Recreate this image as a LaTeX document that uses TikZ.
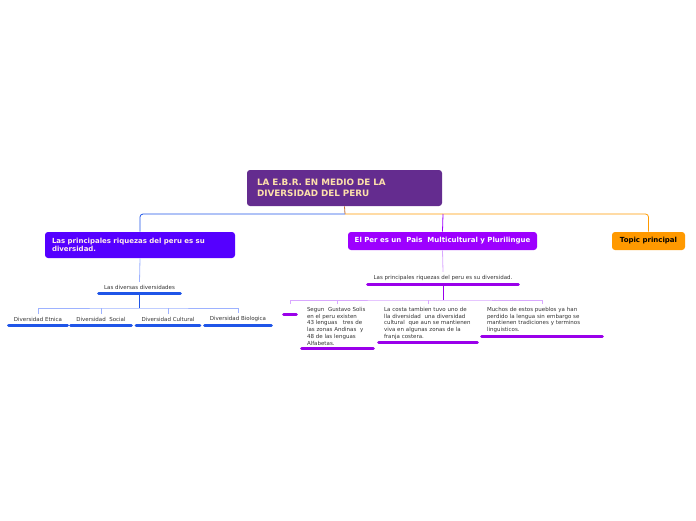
\documentclass[tikz,border=0pt]{standalone}
\usepackage{fontspec}
\setmainfont{DejaVu Sans}
\definecolor{topc}{HTML}{642C8F}
\definecolor{leftc}{HTML}{5500FF}
\definecolor{midc}{HTML}{9D00FF}
\definecolor{topicc}{HTML}{FF9900}
\definecolor{bluel}{HTML}{1F55E8}
\definecolor{bluelight}{HTML}{9DB2FF}
\definecolor{purl}{HTML}{9A00EA}
\definecolor{purlight}{HTML}{D9A8FF}
\begin{document}
\begin{tikzpicture}[x=1pt, y=-1pt, line width=0.8pt,
	box/.style={rounded corners=3pt, font=\bfseries\fontsize{7}{8.2}\selectfont},
	leaf/.style={font=\fontsize{5.5}{6.7}\selectfont, text=black!80, inner xsep=5pt, inner ysep=3pt},
	bluebar/.style={line width=3pt, line cap=round, bluel},
	purbar/.style={line width=3pt, line cap=round, purl}]
	\useasboundingbox (0,0) rectangle (696,520);

	% main topics
	\node[box, fill=topc, text=yellow!25!orange!30, font=\bfseries\fontsize{8.8}{11}\selectfont, text width=175pt, inner xsep=10pt, minimum height=36pt, align=left] (top) at (344.5, 188) {LA E.B.R. EN MEDIO DE LA\\DIVERSIDAD DEL PERU};
	\node[box, fill=leftc, text=pink!30, text width=176pt, inner xsep=7pt, minimum height=26pt, align=left] (left) at (140, 245) {Las principales riquezas del peru es su\\diversidad.};
	\node[box, fill=midc, text=white, minimum width=189pt, minimum height=18pt] (mid) at (442.5, 241) {El Per es un\ \ Pais\ \ Multicultural y Plurilingue};
	\node[box, fill=topicc, text=black, minimum width=73pt, minimum height=18pt] (topic) at (648.5, 241) {Topic principal};

	\coordinate (j) at (345, 214);
	\coordinate (jm) at (443, 214);
	\draw[topicc!60!topc] (top.south) -- (j);
	\draw[bluel, rounded corners=3pt] (j) -| (left.north);
	\draw[topicc, rounded corners=3pt] (j) -| (topic.north);
	\draw[midc] (jm) -- (mid.north);

	% left branch
	\node[leaf, anchor=south, minimum width=81pt] (div) at (139.5, 293) {Las diversas diversidades};
	\draw[bluebar] (div.south west) -- (div.south east);
	\draw[bluelight] (left.south) -- (div.north);
	\node[leaf, anchor=south, minimum width=58pt] (e1) at (38, 325) {Diversidad Etnica};
	\node[leaf, anchor=south, minimum width=60pt] (e2) at (101, 325) {Diversidad\ \ Social};
	\node[leaf, anchor=south, minimum width=62pt] (e3) at (168, 325) {Diversidad Cultural};
	\node[leaf, anchor=south, minimum width=66pt] (e4) at (238, 325) {Diversidad Biologica};
	\foreach \n in {e1, e2, e3, e4}
		\draw[bluebar] (\n.south west) -- (\n.south east);
	\coordinate (b1) at (139.5, 308);
	\draw[bluel] (div.south) -- (b1);
	\draw[bluelight] (e1.north) |- (b1) -| (e4.north);
	\draw[bluelight] (e2.north) -- (e2.north |- b1);
	\draw[bluelight] (e3.north) -- (e3.north |- b1);

	% middle branch
	\node[leaf, anchor=south, minimum width=150pt] (riq) at (443, 284) {Las principales riquezas del peru es su diversidad.};
	\draw[purbar] (riq.south west) -- (riq.south east);
	\draw[purlight] (mid.south) -- (riq.north);
	\node[leaf, anchor=north, minimum width=12pt, minimum height=10pt] (m1) at (290, 304) {};
	\node[leaf, anchor=north, text width=61pt, align=left] (m2) at (337.5, 304) {Segun\ \ Gustavo Solis\\en el peru existen\\43 lenguas\ \ \ tres de\\las zonas Andinas\ \ y\\48 de las lenguas\\Alfabetas.};
	\node[leaf, anchor=north, text width=88pt, align=left] (m3) at (428, 304) {La costa tambien tuvo uno de\\lla diversidad\ \ una diversidad\\cultural\ \ que aun se mantienen\\viva en algunas zonas de la\\franja costera.};
	\node[leaf, anchor=north, text width=110pt, align=left] (m4) at (542, 304) {Muchos de estos pueblos ya han\\perdido la lengua sin embargo se\\mantienen tradiciones y terminos\\linguisticos.};
	\foreach \n in {m1, m2, m3, m4}
		\draw[purbar] (\n.south west) -- (\n.south east);
	\coordinate (b2) at (443, 300);
	\draw[purl] (riq.south) -- (b2);
	\draw[purlight] (m1.north) |- (b2) -| (m4.north);
	\draw[purlight] (m2.north) -- (m2.north |- b2);
	\draw[purlight] (m3.north) -- (m3.north |- b2);
\end{tikzpicture}
\end{document}
